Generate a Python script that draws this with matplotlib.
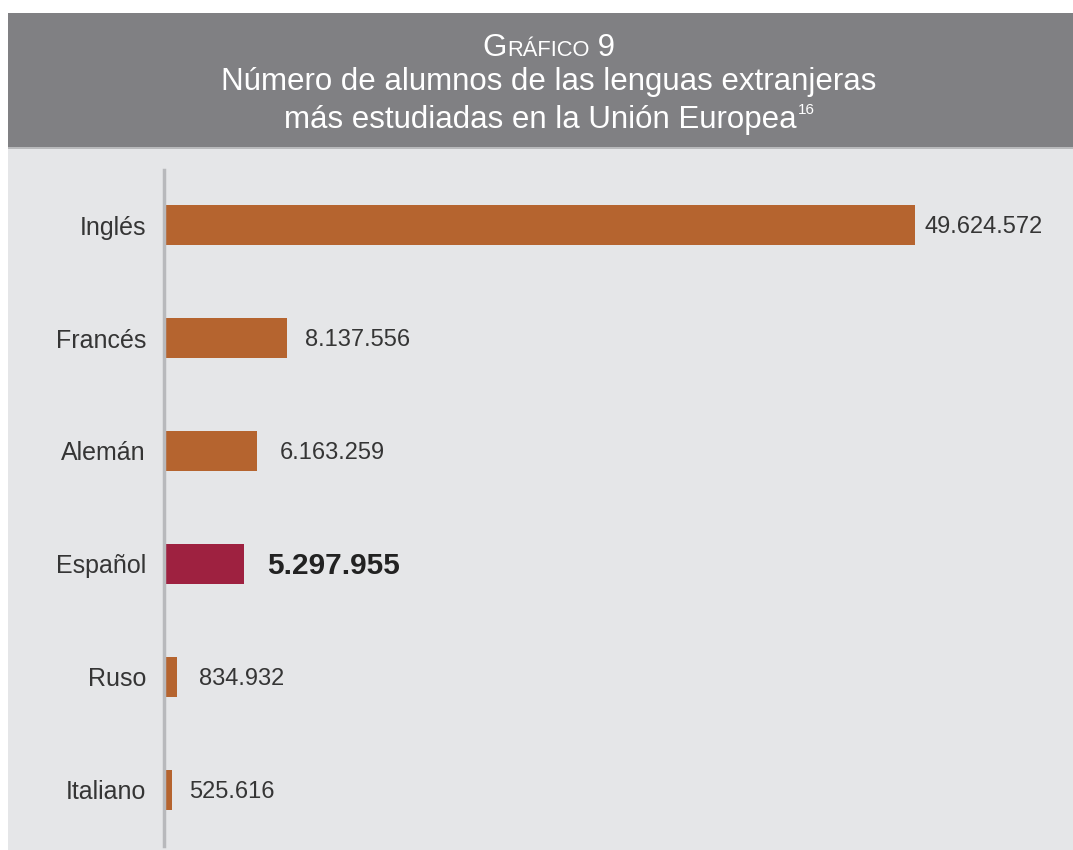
import matplotlib
matplotlib.use("Agg")
import matplotlib.pyplot as plt
from matplotlib.patches import Rectangle

categories = ["Inglés", "Francés", "Alemán", "Español", "Ruso", "Italiano"]
values = [49624572, 8137556, 6163259, 5297955, 834932, 525616]
value_labels = ["49.624.572", "8.137.556", "6.163.259", "5.297.955", "834.932", "525.616"]
highlight = "Español"

W, H = 1073, 850
DPI = 100
fig = plt.figure(figsize=(W / DPI, H / DPI), dpi=DPI)
fig.patch.set_facecolor("white")

FONT = "Liberation Sans"
TXT = "#353535"

def fx(px):
    return px / W

def fy(py):
    return 1 - py / H

# background panels
fig.patches.append(Rectangle((fx(8), fy(850)), fx(W - 8), (850 - 148) / H,
                             transform=fig.transFigure, facecolor="#e5e6e8", edgecolor="none", zorder=-5))
fig.patches.append(Rectangle((fx(8), fy(147)), fx(W - 8), (147 - 13) / H,
                             transform=fig.transFigure, facecolor="#808083", edgecolor="none", zorder=-5))
fig.patches.append(Rectangle((fx(8), fy(149)), fx(W - 8), 2 / H,
                             transform=fig.transFigure, facecolor="#b9babc", edgecolor="none", zorder=-5))

# axes
left, right, top, bottom = 164, 1060, 170, 846
ax = fig.add_axes([fx(left), fy(bottom), fx(right - left), (bottom - top) / H])
ax.set_zorder(5)
ax.set_facecolor("none")
px_per_unit = 751 / values[0]
ax.set_xlim(0, (right - left) / px_per_unit)
n = len(categories)
ax.set_ylim(n - 1 + 0.496, -0.487)

colors = ["#9e2140" if c == highlight else "#b5642f" for c in categories]
ypos = list(range(n))
ax.barh(ypos, values, height=0.35, color=colors, edgecolor="none", zorder=2)

for s in ["top", "right", "bottom"]:
    ax.spines[s].set_visible(False)
ax.spines["left"].set_color("#b8b9bc")
ax.spines["left"].set_linewidth(2.5)
ax.set_xticks([])
ax.set_yticks(ypos)
ax.set_yticklabels(categories, fontsize=18, color=TXT, family=FONT)
ax.tick_params(axis="y", length=0, pad=13)

offsets = [7, 12.6, 16.2, 16.7, 16.2, 12.6]
for i, (v, lab, c) in enumerate(zip(values, value_labels, categories)):
    bold = c == highlight
    ax.annotate(lab, (v, i), xytext=(offsets[i], -1.5), textcoords="offset points",
                va="center", ha="left", fontsize=21.5 if bold else 17,
                fontweight="bold" if bold else "normal", color="#222222" if bold else TXT,
                family=FONT)

# title
fig.canvas.draw()
r = fig.canvas.get_renderer()
CX = 549
cx = fx(CX)
TS = 22.5

t2 = fig.text(cx, fy(82), "Número de alumnos de las lenguas extranjeras", ha="center", va="center",
              fontsize=TS, color="white", family=FONT)
t3 = fig.text(cx, fy(120), "más estudiadas en la Unión Europea", ha="center", va="center",
              fontsize=TS, color="white", family=FONT)

# Gráfico 9 in small caps
parts = [("G", TS), ("RÁFICO", TS * 0.7), (" 9", TS)]
tmp = [fig.text(0, 0, p, fontsize=s, family=FONT) for p, s in parts]
widths = [t.get_window_extent(r).width for t in tmp]
for t in tmp:
    t.remove()
total = sum(widths)
x0 = CX - total / 2
base_y = fy(56)
for (p, s), w in zip(parts, widths):
    fig.text(fx(x0), base_y, p, fontsize=s, family=FONT, color="white", ha="left", va="baseline")
    x0 += w

# superscript
fig.canvas.draw()
bb = t3.get_window_extent(r)
sup = fig.text(0, 0, "16", fontsize=11, family=FONT, color="white", ha="left", va="bottom")
sw = sup.get_window_extent(r).width
t3.set_x(fx(CX - sw / 2))
sup.set_x(fx(bb.x1 - sw / 2 + 1))
sup.set_y(fy(120) + 3 / H)

fig.savefig("out.png", dpi=DPI, facecolor="white")
